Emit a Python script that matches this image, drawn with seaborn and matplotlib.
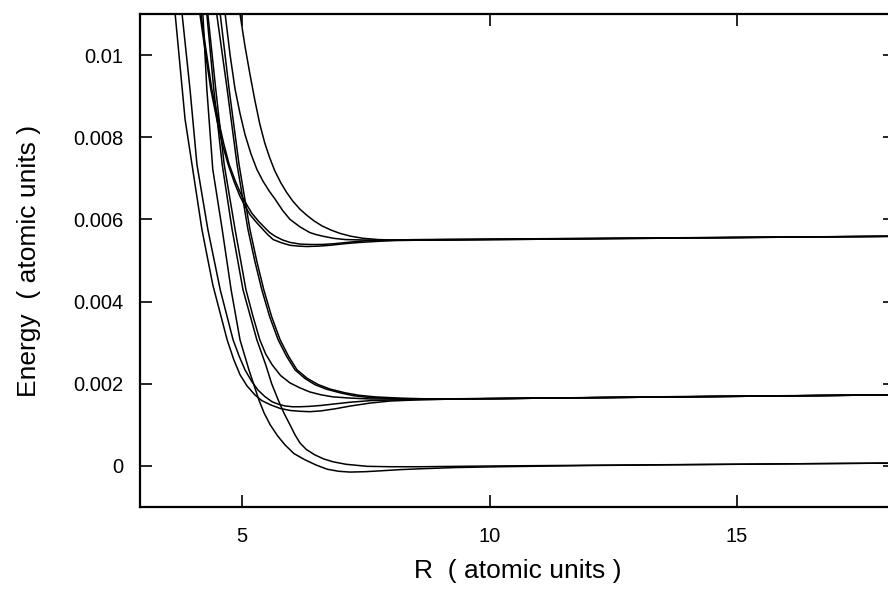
import numpy as np
import pandas as pd
import matplotlib
matplotlib.use("Agg")
import matplotlib.pyplot as plt
import seaborn as sns

# lower group (asymptote ~ 0)
r_l1 = [4.21, 4.29, 4.41, 4.60, 4.78, 4.96, 5.14, 5.34, 5.45, 5.57, 5.72, 5.87, 6.05, 6.27, 6.50,
        6.72, 6.95, 7.18, 7.50, 7.79, 8.20, 8.60, 9.30, 10.21, 12.0, 15.0, 18.2]
e_l1 = [11.00, 9.17, 7.22, 5.76, 4.29, 3.07, 2.34, 1.61, 1.28, 1.00, 0.73, 0.51, 0.30, 0.15, 0.02,
        -0.08, -0.13, -0.15, -0.14, -0.12, -0.09, -0.07, -0.04, -0.02, 0.01, 0.04, 0.07]
r_l2 = [4.29, 4.43, 4.60, 4.80, 5.02, 5.30, 5.48, 5.60, 5.73, 5.85, 5.97, 6.07, 6.17, 6.30, 6.47,
        6.65, 6.84, 7.10, 7.53, 8.00, 8.60, 10.21, 18.2]
e_l2 = [11.00, 9.17, 7.34, 5.76, 4.29, 3.07, 2.46, 2.00, 1.61, 1.28, 1.00, 0.76, 0.56, 0.40, 0.27,
        0.17, 0.10, 0.04, -0.01, -0.02, -0.02, 0.00, 0.07]

# middle group (asymptote ~ 0.0017)
r_m1 = [3.65, 3.85, 3.99, 4.19, 4.41, 4.70, 4.83, 4.96, 5.10, 5.26, 5.40, 5.57, 5.77, 5.97, 6.17,
        6.37, 6.60, 6.88, 7.20, 7.59, 8.00, 8.60, 9.40, 10.21, 14.0, 18.2]
e_m1 = [11.00, 8.44, 7.34, 5.76, 4.41, 3.07, 2.60, 2.22, 1.95, 1.73, 1.59, 1.49, 1.40, 1.35, 1.33,
        1.32, 1.34, 1.39, 1.46, 1.53, 1.58, 1.61, 1.63, 1.64, 1.69, 1.73]
r_m2 = [3.79, 3.95, 4.09, 4.31, 4.56, 4.82, 4.94, 5.06, 5.19, 5.32, 5.46, 5.61, 5.74, 5.87, 6.02,
        6.17, 6.37, 6.58, 6.88, 7.18, 7.60, 8.19, 10.21, 18.2]
e_m2 = [11.00, 9.17, 7.34, 5.76, 4.29, 3.07, 2.68, 2.34, 2.07, 1.85, 1.69, 1.56, 1.50, 1.46, 1.44,
        1.44, 1.45, 1.47, 1.51, 1.55, 1.59, 1.61, 1.64, 1.73]
r_m3 = [4.31, 4.47, 4.64, 4.86, 5.08, 5.22, 5.36, 5.48, 5.61, 5.78, 5.97, 6.17, 6.37, 6.60, 6.84,
        7.20, 7.59, 8.80, 10.21, 18.2]
e_m3 = [11.00, 9.17, 7.34, 5.76, 4.29, 3.65, 3.07, 2.72, 2.46, 2.20, 2.02, 1.90, 1.80, 1.73, 1.68,
        1.65, 1.63, 1.63, 1.64, 1.73]
r_m4 = [4.49, 4.70, 4.90, 5.12, 5.26, 5.40, 5.56, 5.73, 5.90, 6.07, 6.27, 6.47, 6.70, 6.98, 7.25,
        7.53, 8.00, 8.60, 10.21, 18.2]
e_m4 = [11.00, 9.17, 7.34, 5.76, 4.98, 4.29, 3.63, 3.07, 2.67, 2.34, 2.13, 1.98, 1.87, 1.78, 1.71,
        1.67, 1.64, 1.63, 1.64, 1.73]
r_m5 = [4.56, 4.74, 4.94, 5.16, 5.30, 5.44, 5.60, 5.77, 5.94, 6.11, 6.32, 6.54, 6.78, 7.08, 7.36,
        7.69, 8.20, 8.80, 10.21, 18.2]
e_m5 = [11.00, 9.17, 7.34, 5.76, 4.98, 4.29, 3.63, 3.07, 2.67, 2.34, 2.13, 1.98, 1.87, 1.78, 1.72,
        1.68, 1.65, 1.63, 1.64, 1.73]

# upper group (asymptote ~ 0.0056)
r_t1 = [4.15, 4.25, 4.37, 4.49, 4.60, 4.72, 4.84, 4.96, 5.06, 5.16, 5.29, 5.42, 5.52, 5.63, 5.80,
        5.97, 6.15, 6.31, 6.55, 6.78, 7.08, 7.38, 7.80, 8.19, 10.21, 18.2]
e_t1 = [11.00, 10.15, 9.17, 8.44, 7.85, 7.34, 6.92, 6.56, 6.33, 6.12, 5.93, 5.76, 5.63, 5.51, 5.43,
        5.37, 5.35, 5.34, 5.35, 5.37, 5.41, 5.44, 5.47, 5.49, 5.51, 5.59]
r_t2 = [4.17, 4.27, 4.39, 4.52, 4.63, 4.74, 4.87, 5.00, 5.10, 5.20, 5.33, 5.46, 5.56, 5.67, 5.82,
        5.97, 6.17, 6.37, 6.62, 6.88, 7.20, 7.59, 8.60, 18.2]
e_t2 = [11.00, 10.15, 9.17, 8.44, 7.85, 7.34, 6.92, 6.56, 6.35, 6.15, 5.96, 5.80, 5.68, 5.59, 5.50,
        5.44, 5.40, 5.39, 5.39, 5.41, 5.45, 5.49, 5.51, 5.59]
r_t3 = [4.66, 4.76, 4.86, 4.96, 5.06, 5.18, 5.30, 5.42, 5.55, 5.67, 5.82, 5.97, 6.17, 6.37, 6.50,
        6.64, 6.85, 7.08, 7.79, 9.20, 18.2]
e_t3 = [11.00, 10.00, 9.17, 8.58, 8.07, 7.60, 7.22, 6.94, 6.69, 6.49, 6.22, 6.00, 5.82, 5.68, 5.63,
        5.59, 5.54, 5.51, 5.49, 5.51, 5.59]
r_t4 = [4.96, 5.06, 5.16, 5.26, 5.36, 5.46, 5.56, 5.66, 5.78, 5.90, 6.03, 6.17, 6.31, 6.46, 6.62,
        6.80, 6.98, 7.20, 7.45, 7.75, 8.20, 10.21, 18.2]
e_t4 = [11.00, 10.22, 9.54, 8.90, 8.32, 7.86, 7.50, 7.19, 6.90, 6.66, 6.44, 6.25, 6.10, 5.96, 5.84,
        5.74, 5.66, 5.59, 5.54, 5.51, 5.49, 5.51, 5.59]

curves = {'L1': (r_l1, e_l1), 'L2': (r_l2, e_l2),
          'M1': (r_m1, e_m1), 'M2': (r_m2, e_m2), 'M3': (r_m3, e_m3),
          'M4': (r_m4, e_m4), 'M5': (r_m5, e_m5),
          'T1': (r_t1, e_t1), 'T2': (r_t2, e_t2), 'T3': (r_t3, e_t3), 'T4': (r_t4, e_t4)}

x_ticks = [5, 10, 15]
y_ticks = [0, 0.002, 0.004, 0.006, 0.008, 0.01]
y_ticklabels = ['0', '0.002', '0.004', '0.006', '0.008', '0.01']

### long format for seaborn
frames = []
for name, (r, e) in curves.items():
    frames.append(pd.DataFrame({'R': r, 'E': np.array(e) * 1e-3, 'curve': name}))
data = pd.concat(frames, ignore_index=True)

### plotting
sns.set_style("ticks")
plt.rcParams['font.family'] = ['Liberation Sans', 'DejaVu Sans']
plt.rcParams['text.color'] = 'black'
plt.rcParams['axes.labelcolor'] = 'black'

fig = plt.figure(figsize=(8.88, 5.91), dpi=100)
# the right frame of the original sits just outside the picture
ax = fig.add_axes([140 / 888, 1 - 507 / 591, (895 - 140) / 888, (507 - 14) / 591])

sns.lineplot(data=data, x='R', y='E', units='curve', estimator=None, sort=False,
             color='black', linewidth=1.1, ax=ax, legend=False)

ax.set_xlim(2.94, 18.19)
ax.set_ylim(-0.001, 0.011)
ax.set_xticks(x_ticks)
ax.set_yticks(y_ticks)
ax.set_yticklabels(y_ticklabels)
ax.tick_params(direction='in', length=8.5, width=1.2, labelsize=14.5,
               top=True, right=True, colors='black')
ax.tick_params(axis='y', pad=12)
ax.tick_params(axis='x', pad=14.5)
for s in ['left', 'top', 'bottom']:
    ax.spines[s].set_linewidth(1.6)
    ax.spines[s].set_color('black')
ax.spines['right'].set_visible(False)

ax.set_xlabel('R  ( atomic units )', fontsize=19, labelpad=9)
ax.set_ylabel('Energy  ( atomic units )', fontsize=19, labelpad=23)

fig.savefig('out.png', dpi=100)
